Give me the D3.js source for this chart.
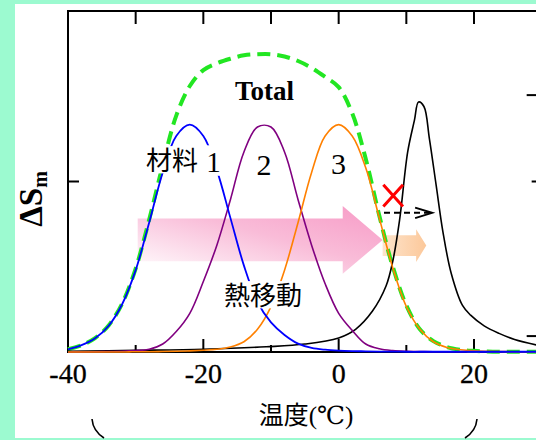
<!DOCTYPE html>
<html><head><meta charset="utf-8">
<script src="https://cdn.jsdelivr.net/npm/d3@7"></script>
<style>html,body{margin:0;padding:0;background:#9cfad0;overflow:hidden}svg{display:block}</style>
</head><body>
<svg id="c" width="536" height="440"></svg>
<script>
// ---- data ----
const temps = [-40,-38,-36,-34,-32,-30,-28,-26,-24,-22,-20,-18,-16,-14,-12,-10,-8,-6,-4,-2,0,2,4,6,8,10,12,14,16,18,20,22,24,26,28,30];
const material1 = [0.012,0.03,0.06,0.115,0.21,0.36,0.57,0.79,0.95,1.0,0.95,0.80,0.59,0.38,0.22,0.13,0.075,0.037,0.018,0.01,0.006,0.004,0.003,0.002,0.002,0.001,0.001,0.001,0.001,0.001,0.001,0.001,0.001,0.001,0.001,0.001];
const material2 = [0,0,0.001,0.002,0.003,0.006,0.012,0.035,0.09,0.17,0.31,0.47,0.67,0.88,0.99,0.99,0.88,0.67,0.47,0.30,0.17,0.095,0.035,0.014,0.006,0.003,0.002,0.001,0.001,0.001,0.001,0.001,0.001,0.001,0.001,0.001];
const material3 = [0,0,0,0,0,0.001,0.001,0.002,0.003,0.005,0.008,0.012,0.022,0.045,0.10,0.20,0.36,0.57,0.79,0.95,1.0,0.95,0.81,0.59,0.37,0.20,0.10,0.045,0.02,0.01,0.005,0.003,0.002,0.001,0.001,0.001];
const total = [0.012,0.03,0.061,0.117,0.213,0.367,0.583,0.822,1.04,1.17,1.24,1.27,1.29,1.305,1.31,1.31,1.30,1.28,1.25,1.21,1.165,1.05,0.85,0.60,0.375,0.205,0.10,0.048,0.022,0.01,0.005,0.002,0.001,0.001,0.001,0.001];
const waterTemps = [-40,-30,-20,-10.7,-5,0,2.5,5,7,8,9,10.2,11.2,11.8,12.6,13.4,14.4,15.4,16.6,18.3,19.5,21.5,23.7,26,29.2];
const waterValues = [0.003,0.007,0.012,0.023,0.035,0.062,0.10,0.18,0.29,0.40,0.58,0.88,1.02,1.10,1.08,0.94,0.735,0.53,0.35,0.205,0.162,0.115,0.082,0.055,0.031];
const xMajorTicks = [-40,-20,0,20];
const xMinorTicks = [-30,-10,10];
const xTopTicks = [-30,-20,-10,0,10,20];
const yTicks = [0.75];
const rightMajorTicks = [0.07,1.13];
const rightMinorTicks = [0.75];
const labels = ["材料", "1", "2", "3", "熱移動", "Total"];

// ---- layout ----
const svg = d3.select("#c");
const x = d3.scaleLinear().domain([-40,20]).range([68,474]);
const y = d3.scaleLinear().domain([0,1.5]).range([352,11]);
const xEnd = x(30), yTop = y(1.5), yBot = y(0);

svg.append("rect").attr("x",15).attr("y",4).attr("width",521).attr("height",434).attr("fill","#ffffff");

const defs = svg.append("defs");
const pg = defs.append("linearGradient").attr("id","pinkG").attr("x1",0).attr("y1",1).attr("x2",1).attr("y2",0);
pg.append("stop").attr("offset","0%").attr("stop-color","#ffffff");
pg.append("stop").attr("offset","55%").attr("stop-color","#f9bcd8");
pg.append("stop").attr("offset","100%").attr("stop-color","#f79ac6");
const og = defs.append("linearGradient").attr("id","orG").attr("x1",0).attr("y1",0).attr("x2",1).attr("y2",0);
og.append("stop").attr("offset","0%").attr("stop-color","#fde4cc");
og.append("stop").attr("offset","100%").attr("stop-color","#fcc89a");

// arrows (annotation, in data coordinates)
function arrow(t0, t1, tTip, vMid, bodyH, headH, fill){
  const pts = [[x(t0),y(vMid+bodyH)],[x(t1),y(vMid+bodyH)],[x(t1),y(vMid+headH)],[x(tTip),y(vMid)],
               [x(t1),y(vMid-headH)],[x(t1),y(vMid-bodyH)],[x(t0),y(vMid-bodyH)]];
  svg.append("path").attr("d","M"+pts.map(p=>p.join(",")).join("L")+"Z").attr("fill",fill);
}
arrow(-29.7, 0.6, 6.5, 0.493, 0.094, 0.149, "url(#pinkG)");
arrow(6.5, 11.45, 12.95, 0.468, 0.046, 0.072, "url(#orG)");

// axes frame
const axis = svg.append("g").attr("stroke","#000").attr("stroke-width",2).attr("fill","none");
axis.append("path").attr("d",`M${xEnd},${yTop}H${x(-40)}V${yBot}H${xEnd}`);
xMajorTicks.forEach(t=>axis.append("line").attr("x1",x(t)).attr("x2",x(t)).attr("y1",yBot).attr("y2",yBot-13));
xMinorTicks.forEach(t=>axis.append("line").attr("x1",x(t)).attr("x2",x(t)).attr("y1",yBot).attr("y2",yBot-7));
xTopTicks.forEach(t=>axis.append("line").attr("x1",x(t)).attr("x2",x(t)).attr("y1",yTop).attr("y2",yTop+13));
yTicks.forEach(v=>axis.append("line").attr("x1",x(-40)).attr("x2",x(-40)+11).attr("y1",y(v)).attr("y2",y(v)));
rightMajorTicks.forEach(v=>axis.append("line").attr("x1",xEnd).attr("x2",xEnd-15).attr("y1",y(v)).attr("y2",y(v)));
rightMinorTicks.forEach(v=>axis.append("line").attr("x1",xEnd).attr("x2",xEnd-10).attr("y1",y(v)).attr("y2",y(v)));

svg.append("g").selectAll("text").data(xMajorTicks).join("text")
  .attr("x",d=>x(d)).attr("y",383).attr("text-anchor","middle")
  .attr("font-family","'Liberation Serif','Times New Roman',serif").attr("font-size",28).attr("fill","#000")
  .attr("stroke","#000").attr("stroke-width",0.3)
  .text(d=>d);

// curves
const line = d3.line().x(d=>x(d[0])).y(d=>y(d[1])).curve(d3.curveCatmullRom.alpha(0.5));
const zipT = vals => temps.map((t,i)=>[t,vals[i]]);
svg.append("path").attr("d",line(zipT(total))).attr("fill","none").attr("stroke","#22e622")
  .attr("stroke-width",4).attr("stroke-dasharray","13,7");
svg.append("path").attr("d",line(waterTemps.map((t,i)=>[t,waterValues[i]])))
  .attr("fill","none").attr("stroke","#000").attr("stroke-width",1.6);
svg.append("path").attr("d",line(zipT(material2))).attr("fill","none").attr("stroke","#800080").attr("stroke-width",1.6);
svg.append("path").attr("d",line(zipT(material3))).attr("fill","none").attr("stroke","#ff8000").attr("stroke-width",1.6);
svg.append("path").attr("d",line(zipT(material1))).attr("fill","none").attr("stroke","#0000ff").attr("stroke-width",1.8);

// labels with white backing
function label(str, px, py, opts){
  const g = svg.append("g");
  const r = g.append("rect").attr("fill","#fff");
  const t = g.append("text").attr("x",px).attr("y",py).attr("text-anchor",opts.anchor||"start")
    .attr("font-family",opts.font).attr("font-size",opts.size).attr("font-weight",opts.weight||"normal").attr("fill","#000").text(str);
  if(opts.bg){
    const b = t.node().getBBox();
    r.attr("x",b.x).attr("width",b.width).attr("y",py-opts.size*0.92).attr("height",opts.size*1.05);
  }
}
const CJK = "'Noto Sans CJK JP','Noto Sans CJK SC',sans-serif";
const SERIF = "'Liberation Serif','DejaVu Serif',serif";
label(labels[0],146,170,{font:CJK,size:26,bg:true});
label(labels[1],213.5,172,{font:SERIF,size:29,anchor:"middle",bg:true});
label(labels[2],264,175,{font:SERIF,size:30,anchor:"middle",bg:true});
label(labels[3],338.5,174,{font:SERIF,size:30,anchor:"middle",bg:true});
label(labels[4],224,305,{font:CJK,size:26,bg:true});
label(labels[5],264.5,100,{font:SERIF,size:27,anchor:"middle",weight:"bold"});

// red cross and dashed arrow (annotations)
const ann = svg.append("g");
ann.append("path").attr("d",`M${x(6.6)},${y(0.736)}L${x(9.5)},${y(0.64)}M${x(9.5)},${y(0.736)}L${x(6.6)},${y(0.64)}`)
  .attr("stroke","#ff0000").attr("stroke-width",3).attr("fill","none");
ann.append("path").attr("d",`M${x(6.7)},${y(0.612)}H${x(13.8)}`).attr("stroke","#000").attr("stroke-width",2).attr("stroke-dasharray","6,4").attr("fill","none");
ann.append("path").attr("d",`M${x(11.3)},${y(0.635)}L${x(13.8)},${y(0.612)}L${x(11.3)},${y(0.589)}`).attr("stroke","#000").attr("stroke-width",2).attr("fill","none");

// axis titles
const xt = svg.append("text").attr("x",306).attr("y",424).attr("text-anchor","middle").attr("font-size",25).attr("fill","#000");
xt.append("tspan").attr("font-family",CJK).text("温度");
xt.append("tspan").attr("font-family",SERIF).text("(℃)");

const yt = svg.append("text").attr("transform","translate(42,199) rotate(-90)").attr("text-anchor","middle")
  .attr("font-family",SERIF).attr("font-weight","bold").attr("fill","#000");
yt.append("tspan").attr("font-size",33).text("ΔS");
yt.append("tspan").attr("font-size",20).attr("dy",5).text("m");

// bracket ends at the bottom
svg.append("path").attr("d","M92,419Q93,431 104,438M477,419Q476,431 465,438").attr("fill","none").attr("stroke","#000").attr("stroke-width",1.6);
</script>
</body></html>
